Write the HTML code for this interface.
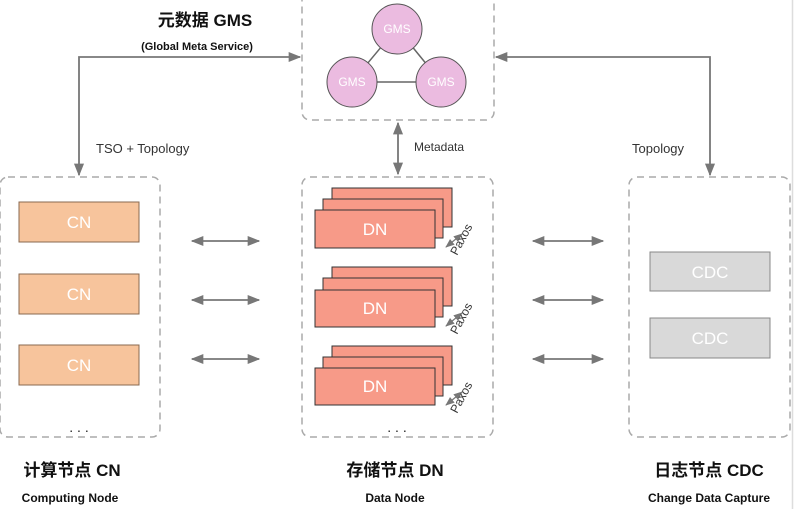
<!DOCTYPE html>
<html><head><meta charset="utf-8">
<style>
html,body{margin:0;padding:0;background:#fff;width:798px;height:509px;overflow:hidden}
svg{display:block}
text{font-family:"Liberation Sans","Noto Sans CJK SC",sans-serif}
</style></head><body>
<svg width="798" height="509" viewBox="0 0 798 509" xmlns="http://www.w3.org/2000/svg">
<defs>
<marker id="a" viewBox="0 0 10 10" refX="9" refY="5" markerWidth="7" markerHeight="7" orient="auto-start-reverse"><path d="M0,1 L10,5 L0,9 z" fill="#777"/></marker>
</defs>
<line x1="792.5" y1="0" x2="792.5" y2="509" stroke="#ddd" stroke-width="1.5"/>
<g fill="none" stroke="#aaa" stroke-width="1.5" stroke-dasharray="7,5">
<rect x="302" y="-8" width="192" height="128" rx="8"/>
<rect x="0" y="177" width="160" height="260" rx="8"/>
<rect x="302" y="177" width="191" height="260" rx="8"/>
<rect x="629" y="177" width="161" height="260" rx="8"/>
</g>
<!-- GMS -->
<g stroke="#666" stroke-width="1.5">
<line x1="397" y1="28" x2="352" y2="82"/><line x1="397" y1="28" x2="441" y2="82"/><line x1="352" y1="82" x2="441" y2="82"/>
</g>
<g fill="#ebbbe0" stroke="#555" stroke-width="1">
<circle cx="397" cy="29" r="25"/><circle cx="352" cy="82" r="25"/><circle cx="441" cy="82" r="25"/>
</g>
<g fill="#fff" font-size="12" text-anchor="middle">
<text x="397" y="33">GMS</text><text x="352" y="86">GMS</text><text x="441" y="86">GMS</text>
</g>
<text x="205" y="26" font-size="17" font-weight="bold" text-anchor="middle" fill="#111">元数据 GMS</text>
<text x="197" y="50" font-size="11" font-weight="bold" text-anchor="middle" fill="#111">(Global Meta Service)</text>
<!-- connectors -->
<g stroke="#777" stroke-width="1.8" fill="none">
<polyline points="79,175 79,57 300,57" marker-start="url(#a)" marker-end="url(#a)"/>
<polyline points="710,175 710,57 496,57" marker-start="url(#a)" marker-end="url(#a)"/>
<line x1="398" y1="123" x2="398" y2="174" marker-start="url(#a)" marker-end="url(#a)"/>
<line x1="192" y1="241" x2="259" y2="241" marker-start="url(#a)" marker-end="url(#a)"/>
<line x1="192" y1="300" x2="259" y2="300" marker-start="url(#a)" marker-end="url(#a)"/>
<line x1="192" y1="359" x2="259" y2="359" marker-start="url(#a)" marker-end="url(#a)"/>
<line x1="533" y1="241" x2="603" y2="241" marker-start="url(#a)" marker-end="url(#a)"/>
<line x1="533" y1="300" x2="603" y2="300" marker-start="url(#a)" marker-end="url(#a)"/>
<line x1="533" y1="359" x2="603" y2="359" marker-start="url(#a)" marker-end="url(#a)"/>
</g>
<g font-size="13" fill="#333">
<text x="96" y="153">TSO + Topology</text>
<text x="414" y="151" font-size="12">Metadata</text>
<text x="632" y="153">Topology</text>
</g>
<!-- CN -->
<g fill="#f7c49c" stroke="#8a6a50" stroke-width="1">
<rect x="19" y="202" width="120" height="40"/><rect x="19" y="274" width="120" height="40"/><rect x="19" y="345" width="120" height="40"/>
</g>
<g fill="#fff" font-size="17" text-anchor="middle">
<text x="79" y="228">CN</text><text x="79" y="300">CN</text><text x="79" y="371">CN</text>
</g>
<text x="79" y="432" font-size="14" text-anchor="middle" fill="#222">. . .</text>
<!-- DN stacks -->
<g fill="#f79a88" stroke="#333" stroke-width="1">
<rect x="332" y="188" width="120" height="39"/><rect x="323" y="199" width="120" height="39"/><rect x="315" y="210" width="120" height="38"/>
<rect x="332" y="267" width="120" height="39"/><rect x="323" y="278" width="120" height="39"/><rect x="315" y="290" width="120" height="37"/>
<rect x="332" y="346" width="120" height="39"/><rect x="323" y="357" width="120" height="39"/><rect x="315" y="368" width="120" height="37"/>
</g>
<g fill="#fff" font-size="17" text-anchor="middle">
<text x="375" y="235">DN</text><text x="375" y="314">DN</text><text x="375" y="392">DN</text>
</g>
<g stroke="#777" stroke-width="1.3" fill="none">
<line x1="446" y1="247" x2="462" y2="234" marker-start="url(#a)" marker-end="url(#a)"/>
<line x1="446" y1="326" x2="462" y2="313" marker-start="url(#a)" marker-end="url(#a)"/>
<line x1="446" y1="405" x2="462" y2="392" marker-start="url(#a)" marker-end="url(#a)"/>
</g>
<g font-size="12" fill="#333">
<text transform="translate(457,256) rotate(-62)">Paxos</text>
<text transform="translate(457,335) rotate(-62)">Paxos</text>
<text transform="translate(457,414) rotate(-62)">Paxos</text>
</g>
<text x="397" y="432" font-size="14" text-anchor="middle" fill="#222">. . .</text>
<!-- CDC -->
<g fill="#d9d9d9" stroke="#888" stroke-width="1">
<rect x="650" y="252" width="120" height="39"/><rect x="650" y="318" width="120" height="40"/>
</g>
<g fill="#fff" font-size="17" text-anchor="middle">
<text x="710" y="278">CDC</text><text x="710" y="344">CDC</text>
</g>
<!-- bottom labels -->
<g font-weight="bold" fill="#111" text-anchor="middle">
<text x="72" y="476" font-size="17">计算节点 CN</text>
<text x="70" y="502" font-size="12">Computing Node</text>
<text x="395" y="476" font-size="17">存储节点 DN</text>
<text x="395" y="502" font-size="12">Data Node</text>
<text x="709" y="476" font-size="17">日志节点 CDC</text>
<text x="709" y="502" font-size="12">Change Data Capture</text>
</g>
</svg>
</body></html>
